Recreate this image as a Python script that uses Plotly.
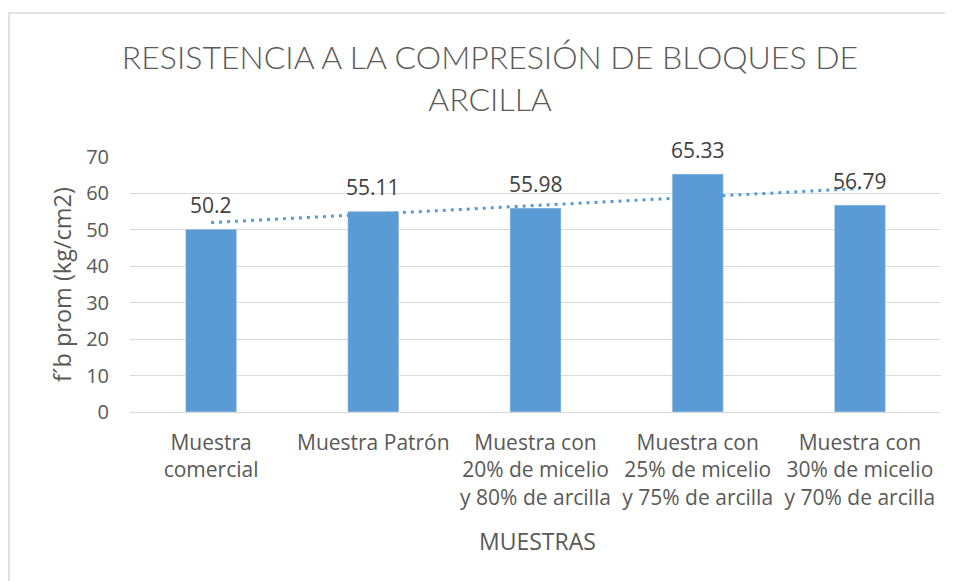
import plotly.graph_objects as go
import numpy as np

categories = ["Muestra<br>comercial", "Muestra Patrón",
              "Muestra con<br>20% de micelio<br>y 80% de arcilla",
              "Muestra con<br>25% de micelio<br>y 75% de arcilla",
              "Muestra con<br>30% de micelio<br>y 70% de arcilla"]
values = [50.2, 55.11, 55.98, 65.33, 56.79]
value_labels = ["50.2", "55.11", "55.98", "65.33", "56.79"]
y_ticks = [0, 10, 20, 30, 40, 50, 60, 70]

# linear trendline (Excel-style) from the data
xi = np.arange(1, len(values) + 1)
slope, intercept = np.polyfit(xi, values, 1)
trend = slope * xi + intercept

FONT = "Open Sans"
GREY = "#595959"

# page body has an 8px margin: figure is placed at (8, 8)
OFF = 8
W, H = 953 - OFF, 581 - OFF
# plot area in screen coordinates
PL, PR, PT, PB = 130, 941, 157, 412
L, R, T, B = PL - OFF, 953 - PR, PT - OFF, 581 - PB
pw, ph = PR - PL, PB - PT


def px(xs):
    return (xs - PL) / pw


def py(ys):
    return (PB - ys) / ph


fig = go.Figure()
fig.add_trace(go.Scatter(
    x=categories, y=trend, mode="lines",
    line=dict(color="#5B9BD5", width=3, dash="3px,5px"),
    hoverinfo="skip", showlegend=False,
))
fig.add_trace(go.Bar(
    x=categories, y=values, marker_color="#5B9BD5",
    width=0.315, showlegend=False,
))
for c, v, lab in zip(categories, values, value_labels):
    fig.add_annotation(x=c, y=v, text=lab, showarrow=False, yanchor="middle", yshift=24,
                       font=dict(size=21, color="#404040", family=FONT))

fig.update_layout(
    width=W, height=H,
    paper_bgcolor="white", plot_bgcolor="white",
    margin=dict(l=L, r=R, t=T, b=B, autoexpand=False),
    title=dict(text="RESISTENCIA A LA COMPRESIÓN DE BLOQUES DE<br>ARCILLA",
               x=(490 - OFF) / W, xanchor="center", y=1 - 61 / H, yanchor="top",
               font=dict(size=32, color=GREY, family="Lato", weight=300)),
    font=dict(family=FONT, color=GREY),
    xaxis=dict(showline=False, ticks="", automargin=False, ticklabelstandoff=16,
               tickfont=dict(size=21, color=GREY, family=FONT)),
    yaxis=dict(range=[0, 70], tickvals=y_ticks, showgrid=True, gridcolor="#d9d9d9", gridwidth=1.3,
               zeroline=True, zerolinecolor="#d9d9d9", zerolinewidth=1.3, automargin=False,
               tickfont=dict(size=20, color=GREY, family=FONT), ticklabelstandoff=20),
    shapes=[dict(type="rect", xref="paper", yref="paper",
                 x0=px(9), x1=1.2, y0=-1.0, y1=py(13),
                 line=dict(color="#d9d9d9", width=1.5), layer="below")],
)
fig.add_annotation(text="MUESTRAS", xref="paper", yref="paper", x=px(537), y=py(541),
                   xanchor="center", yanchor="middle", showarrow=False,
                   font=dict(size=23, color=GREY, family=FONT))
fig.add_annotation(text="f´b prom (kg/cm2)", xref="paper", yref="paper", x=px(62), y=py(285),
                   xanchor="center", yanchor="middle", textangle=-90, showarrow=False,
                   font=dict(size=23.5, color=GREY, family=FONT))
fig.write_html("out.html")
